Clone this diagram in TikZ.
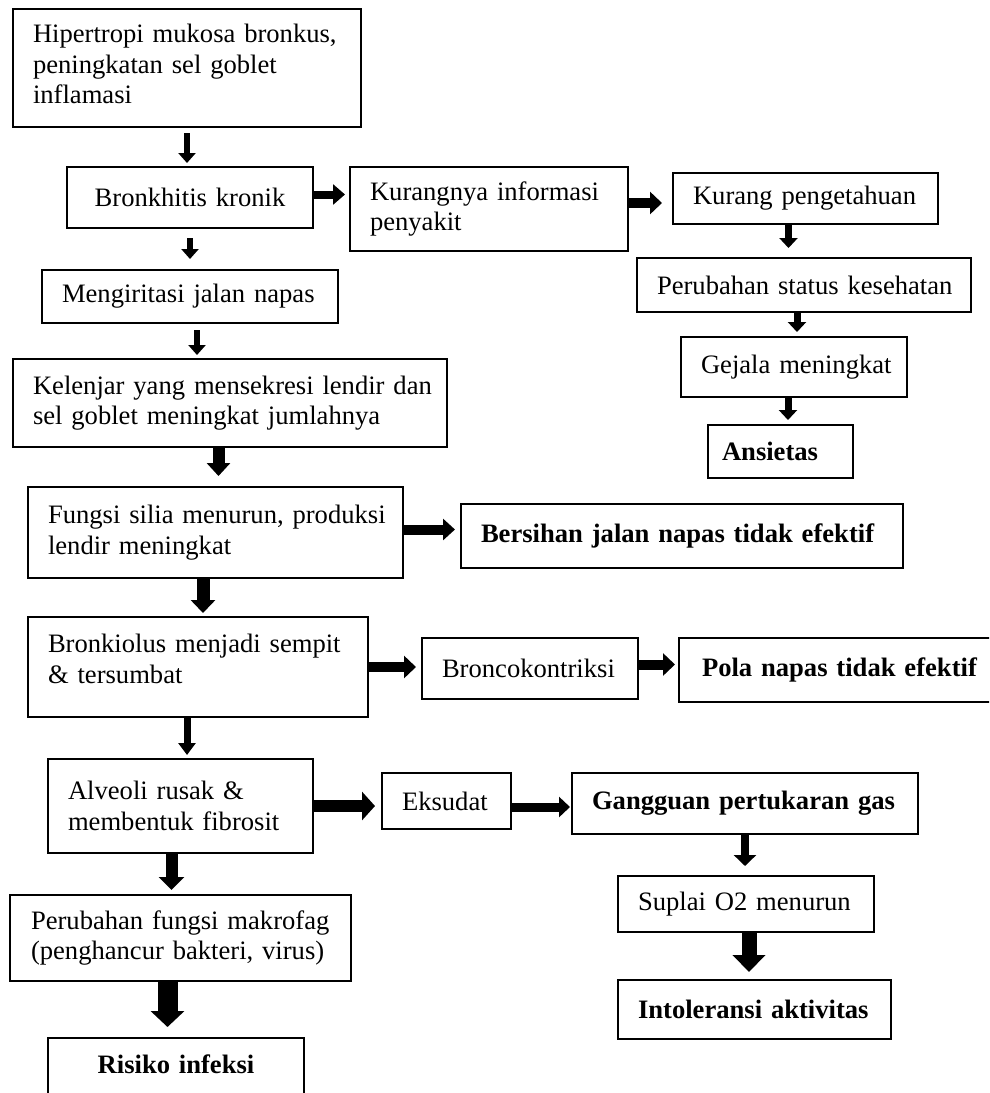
\documentclass[tikz,border=0pt]{standalone}
\usepackage{fontspec}
\setmainfont{Liberation Serif}
\usetikzlibrary{arrows.meta}
\begin{document}
\begin{tikzpicture}[x=1pt,y=-1pt,
  box/.style={draw, line width=1.3pt, outer sep=0pt, inner xsep=20pt, inner ysep=2pt,
    align=left, anchor=north west, font=\fontsize{26.6}{30.6}\selectfont},
  bbox/.style={box, font=\fontsize{26.6}{30.6}\selectfont\bfseries},
  arr/.style args={#1/#2/#3}{line width=#1, -{Triangle[width=#2,length=#3]}},
  frame/.style={line width=1.3pt}
]
\useasboundingbox (0,0) rectangle (989,1093);
\clip (0,0) rectangle (989,1093);

% left column
\node[box, minimum width=348pt, minimum height=118pt, text width=308pt] (hip) at (13,9)
  {\mbox{Hipertropi mukosa bronkus,}\\\mbox{peningkatan sel goblet}\\inflamasi\\[-22.6pt]\mbox{}};
\node[box, align=center, minimum width=246pt, minimum height=61pt, text width=206pt] (bronk) at (67,167)
  {\mbox{Bronkhitis kronik}};
\node[box, minimum width=296pt, minimum height=53pt, text width=256pt] (irit) at (42,270)
  {\mbox{Mengiritasi jalan napas}};
\node[box, minimum width=434pt, minimum height=88pt, text width=394pt] (kel) at (13,359)
  {\mbox{Kelenjar yang mensekresi lendir dan}\\\mbox{sel goblet meningkat jumlahnya}};
\node[box, minimum width=375pt, minimum height=91pt, text width=335pt] (fung) at (28,487)
  {\mbox{Fungsi silia menurun, produksi}\\\mbox{lendir meningkat}};
\node[box, minimum width=340pt, minimum height=100pt, text width=300pt] (bkl) at (28,617)
  {\mbox{Bronkiolus menjadi sempit}\\\mbox{\& tersumbat}\\[-14.6pt]\mbox{}};
\node[box, minimum width=265pt, minimum height=94pt, text width=225pt] (alv) at (48,759)
  {\mbox{Alveoli rusak \&}\\\mbox{membentuk fibrosit}};
\node[box, inner xsep=21pt, minimum width=341pt, minimum height=86pt, text width=299pt] (mak) at (10,895)
  {\mbox{Perubahan fungsi makrofag}\\\mbox{(penghancur bakteri, virus)}};
\node[bbox, draw=none, align=center, minimum width=256pt, minimum height=52pt, text width=216pt] (ris) at (48,1038)
  {\mbox{Risiko infeksi}};
\draw[frame] ([yshift=-60pt]ris.south west) -- (ris.north west) -- (ris.north east) -- ([yshift=-60pt]ris.south east);

% upper right
\node[box, minimum width=278pt, minimum height=84pt, text width=238pt] (kur) at (350,167)
  {\mbox{Kurangnya informasi}\\\mbox{penyakit}};
\node[box, minimum width=265pt, minimum height=51pt, text width=225pt] (peng) at (673,173)
  {\mbox{Kurang pengetahuan}};
\node[box, minimum width=334pt, minimum height=54pt, text width=294pt] (stat) at (637,258)
  {\mbox{Perubahan status kesehatan}};
\node[box, minimum width=226pt, minimum height=60pt, text width=186pt] (gej) at (681,337)
  {\mbox{Gejala meningkat}};
\node[bbox, inner xsep=14pt, minimum width=145pt, minimum height=53pt, text width=117pt] (ans) at (708,425)
  {\mbox{Ansietas}};

% middle right
\node[bbox, minimum width=442pt, minimum height=64pt, text width=402pt] (bers) at (461,504)
  {\mbox{Bersihan jalan napas tidak efektif}};
\node[box, minimum width=216pt, minimum height=61pt, text width=176pt] (bron) at (422,638)
  {\mbox{Broncokontriksi}};
\node[bbox, inner xsep=23pt, minimum width=330pt, minimum height=64pt, text width=284pt] (pola) at (679,638)
  {\mbox{Pola napas tidak efektif}};

% lower right
\node[box, minimum width=129pt, minimum height=56pt, text width=89pt] (eks) at (382,773)
  {\mbox{Eksudat}};
\node[bbox, minimum width=346pt, minimum height=61pt, text width=306pt] (gang) at (572,773)
  {\mbox{Gangguan pertukaran gas}};
\node[box, minimum width=256pt, minimum height=56pt, text width=216pt] (sup) at (618,876)
  {\mbox{Suplai O2 menurun}};
\node[bbox, minimum width=273pt, minimum height=59pt, text width=233pt] (into) at (618,980)
  {\mbox{Intoleransi aktivitas}};

% connector anchor points
\coordinate (c2) at ([yshift=3pt]bronk.east);
\coordinate (c3) at ([yshift=6pt]kur.east);
\coordinate (c4) at ([xshift=-17pt]peng.south);
\coordinate (c5) at ([xshift=3pt]gej.north);
\coordinate (c6) at ([xshift=-6pt]gej.south);
\coordinate (c8) at ([xshift=7pt]irit.south);
\coordinate (c9) at ([xshift=3pt]fung.north);
\coordinate (c10) at ([yshift=3pt]fung.east);
\coordinate (c11) at ([xshift=5pt]bkl.north);
\coordinate (c13) at ([yshift=4pt]bron.east);
\coordinate (c14) at ([xshift=-11pt]bkl.south);
\coordinate (c16) at ([xshift=-9pt]alv.south);
\coordinate (c17) at ([xshift=-13pt]mak.south);
\coordinate (c18) at ([yshift=-6pt]eks.east);
\coordinate (c20) at ([xshift=3pt]sup.south);

% arrows
\draw[arr=6pt/17pt/10pt, shorten <=6pt, shorten >=4pt] (hip.south) -- (hip.south |- bronk.north);
\draw[arr=8pt/20pt/12pt, shorten >=5pt] (c2) -- (c2 -| kur.west);
\draw[arr=10pt/22pt/12pt, shorten >=11pt] (c3) -- (c3 -| peng.west);
\draw[arr=7pt/18pt/10pt, shorten >=10pt] (c4) -- (c4 |- stat.north);
\draw[arr=7pt/18pt/10pt, shorten >=5pt] (c5 |- stat.south) -- (c5);
\draw[arr=7pt/18pt/10pt, shorten >=5pt] (c6) -- (c6 |- ans.north);
\draw[arr=6pt/17pt/10pt, shorten <=10pt, shorten >=11pt] (bronk.south) -- (bronk.south |- irit.north);
\draw[arr=6pt/17pt/10pt, shorten <=7pt, shorten >=4pt] (c8) -- (c8 |- kel.north);
\draw[arr=12pt/23pt/13pt, shorten >=11pt] (c9 |- kel.south) -- (c9);
\draw[arr=10pt/21pt/12pt, shorten >=6pt] (c10) -- (c10 -| bers.west);
\draw[arr=13pt/24pt/13pt, shorten >=4pt] (c11 |- fung.south) -- (c11);
\draw[arr=10pt/22pt/12pt, shorten >=6pt] (bkl.east) -- (bkl.east -| bron.west);
\draw[arr=10pt/22pt/12pt, shorten >=4pt] (c13) -- (c13 -| pola.west);
\draw[arr=7pt/17pt/12pt, shorten >=4pt] (c14) -- (c14 |- alv.north);
\draw[arr=12pt/28pt/13pt, shorten >=7pt] (alv.east) -- (alv.east -| eks.west);
\draw[arr=12pt/25pt/13pt, shorten >=5pt] (c16) -- (c16 |- mak.north);
\draw[arr=20pt/33pt/16pt, shorten >=11pt] (c17) -- (c17 |- ris.north);
\draw[arr=9pt/20pt/11pt, shorten >=2pt] (c18) -- (c18 -| gang.west);
\draw[arr=8pt/22pt/11pt, shorten >=10pt] (gang.south) -- (gang.south |- sup.north);
\draw[arr=15pt/32pt/17pt, shorten >=8pt] (c20) -- (c20 |- into.north);
\end{tikzpicture}
\end{document}
